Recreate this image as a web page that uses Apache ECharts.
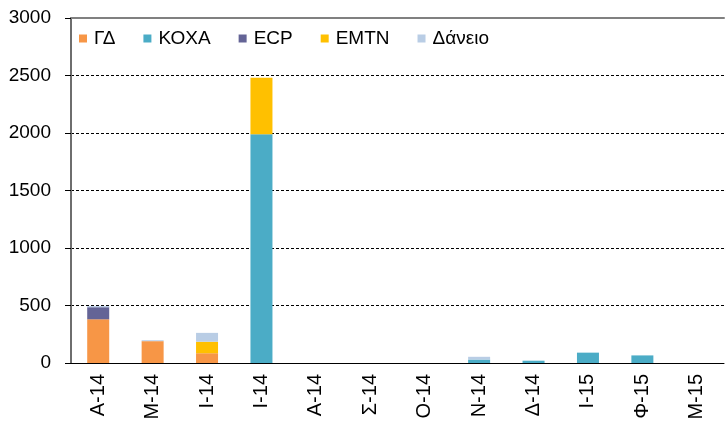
<!DOCTYPE html>
<html>
<head>
<meta charset="utf-8">
<script src="https://cdn.jsdelivr.net/npm/echarts@6/dist/echarts.min.js"></script>
<style>
  html, body { margin: 0; padding: 0; background: #fff; }
  #chart { width: 725px; height: 423px; }
</style>
</head>
<body>
<div id="chart"></div>
<script>
// Monthly issuance, stacked by instrument
const categories = ['Α-14', 'Μ-14', 'Ι-14', 'Ι-14', 'Α-14', 'Σ-14', 'Ο-14', 'Ν-14', 'Δ-14', 'Ι-15', 'Φ-15', 'Μ-15']

const gd     = [380, 190, 85, 0, 0, 0, 0, 0, 0, 0, 0, 0]
const koxa   = [0, 0, 0, 1990, 0, 0, 0, 30, 20, 90, 66, 0]
const ecp    = [105, 0, 0, 0, 0, 0, 0, 0, 0, 0, 0, 0]
const emtn   = [0, 0, 100, 490, 0, 0, 0, 0, 0, 0, 0, 0]
const daneio = [10, 8, 77, 0, 0, 0, 0, 24, 0, 0, 0, 0]

const seriesDefs = [
  { name: 'ΓΔ', data: gd, color: '#F79646' },
  { name: 'ΚΟΧΑ', data: koxa, color: '#4BACC6' },
  { name: 'ECP', data: ecp, color: '#646496' },
  { name: 'EMTN', data: emtn, color: '#FFC000' },
  { name: 'Δάνειο', data: daneio, color: '#B9CDE5' }
]

const FONT = '"Liberation Sans", Arial, sans-serif'

const chart = echarts.init(document.getElementById('chart'))
chart.setOption({
  animation: false,
  textStyle: { fontFamily: FONT },
  legend: {
    left: 74,
    top: 24,
    icon: 'rect',
    itemWidth: 8,
    itemHeight: 8,
    itemGap: 28,
    textStyle: { fontSize: 19, color: '#000', fontFamily: FONT, padding: [0, 0, 0, 2] },
    data: seriesDefs.map(s => s.name)
  },
  grid: { left: 71, right: 1, top: 18, bottom: 60 },
  xAxis: [{
    type: 'category',
    data: categories,
    axisLine: { lineStyle: { color: '#000', width: 1 } },
    axisTick: { show: false },
    axisLabel: { rotate: 90, fontSize: 20, color: '#000', margin: 11, fontFamily: FONT }
  }, {
    type: 'category',
    position: 'top',
    data: categories,
    axisLine: { lineStyle: { color: '#808080', width: 2 } },
    axisTick: { show: false },
    axisLabel: { show: false }
  }],
  yAxis: {
    type: 'value',
    min: 0,
    max: 3000,
    interval: 500,
    axisLine: { show: true, lineStyle: { color: '#6e6e6e', width: 2 } },
    axisTick: { show: true, length: 6, lineStyle: { color: '#000' } },
    axisLabel: { fontSize: 19, color: '#000', margin: 20, fontFamily: FONT, formatter: v => String(v) },
    splitLine: { lineStyle: { color: '#000', type: [3, 2], width: 1 } }
  },
  series: seriesDefs.map(s => ({
    name: s.name,
    type: 'bar',
    stack: 'total',
    barWidth: 22,
    data: s.data.map(v => (v === 0 ? null : v)),
    itemStyle: { color: s.color }
  }))
})
</script>
</body>
</html>
